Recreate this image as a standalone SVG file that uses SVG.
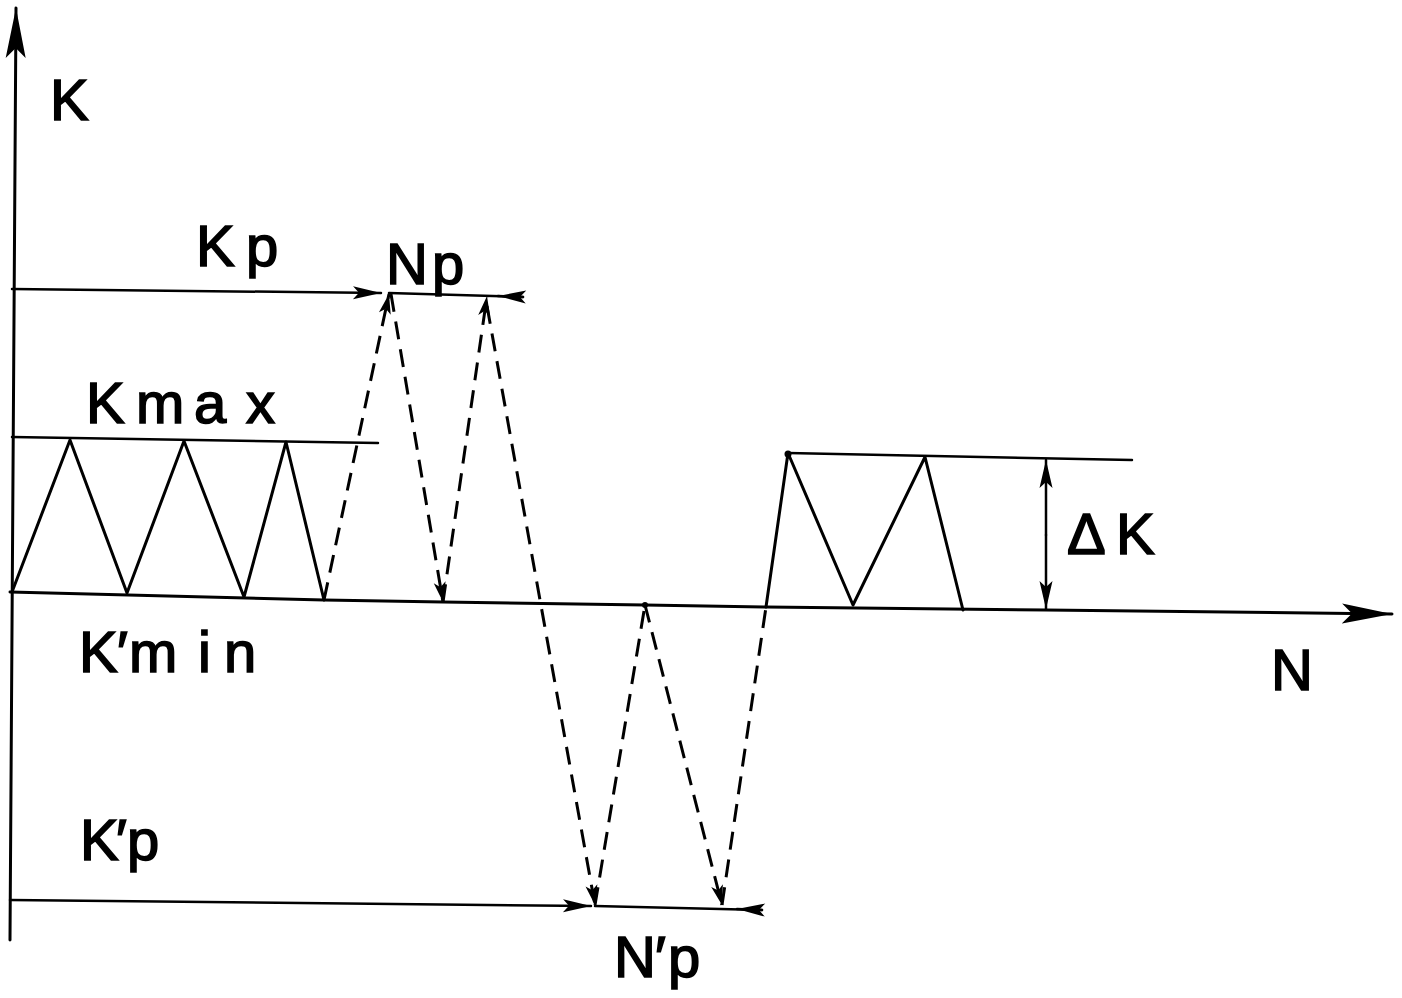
<svg xmlns="http://www.w3.org/2000/svg" width="1402" height="998" viewBox="0 0 1402 998">
<style>
.ln{stroke:#000;stroke-width:3;fill:none;stroke-linecap:round;stroke-linejoin:round}
.thin{stroke:#000;stroke-width:2.5;fill:none;stroke-linecap:round}
.dash{stroke:#000;stroke-width:3;fill:none;stroke-dasharray:18 10}
.lbl{font-family:"Liberation Sans","DejaVu Sans",Arial,sans-serif;font-size:58px;fill:#000;stroke:#000;stroke-width:1.6}
</style>
<defs>
<marker id="big" viewBox="-50 -11 52 22" refX="0" refY="0" markerUnits="userSpaceOnUse" markerWidth="52" markerHeight="22" orient="auto">
<path d="M0,0 L-50,-10 L-40,0 L-50,10 Z" fill="#000"/>
</marker>
<marker id="dim" viewBox="-30 -7 32 14" refX="0" refY="0" markerUnits="userSpaceOnUse" markerWidth="32" markerHeight="14" orient="auto">
<path d="M0,0 L-28,-6.5 L-22,0 L-28,6.5 Z" fill="#000"/>
</marker>
<marker id="tip" viewBox="-22 -7 24 14" refX="0" refY="0" markerUnits="userSpaceOnUse" markerWidth="24" markerHeight="14" orient="auto">
<path d="M0,0 L-20,-6 L-15,0 L-20,6 Z" fill="#000"/>
</marker>
</defs>

<g id="axes">
<line class="ln" x1="10" y1="940" x2="16" y2="8" marker-end="url(#big)"/>
<polyline class="ln" points="10,592 324,600 443,602 645,605 766,607 1046,610 1392,614" marker-end="url(#big)"/>
</g>

<g id="levels">
<polyline class="thin" points="12,437 378,443"/>
<polyline class="thin" points="788,453 1132,460"/>
</g>

<g id="connectors">
<polyline class="ln" points="12,592 70,440 127,593 184,441 244,597 286,442 324,600"/>
<polyline class="ln" points="766,607 788,453 853,605 925,457 963,610"/>
<line class="dash" x1="324" y1="600" x2="389" y2="294" marker-end="url(#tip)"/>
<line class="dash" x1="391" y1="294" x2="443" y2="602" marker-end="url(#tip)"/>
<line class="dash" x1="443" y1="602" x2="487" y2="296" marker-end="url(#tip)"/>
<line class="dash" x1="487" y1="306" x2="595" y2="905" marker-end="url(#tip)"/>
<line class="dash" x1="595" y1="905" x2="645" y2="605"/>
<line class="dash" x1="645" y1="605" x2="722" y2="905" marker-end="url(#tip)"/>
<line class="dash" x1="722" y1="905" x2="766" y2="607"/>
<circle cx="645" cy="605" r="3" fill="#000"/>
<circle cx="788" cy="454" r="3.5" fill="#000"/>
</g>

<g id="kp-dim">
<line class="thin" x1="12" y1="289" x2="381" y2="293" marker-end="url(#dim)"/>
<line class="thin" x1="389" y1="293" x2="523" y2="297"/>
<line class="thin" x1="523" y1="297" x2="498" y2="296" marker-end="url(#dim)"/>
</g>

<g id="kp2-dim">
<line class="thin" x1="10" y1="900" x2="591" y2="906" marker-end="url(#dim)"/>
<line class="thin" x1="595" y1="906" x2="762" y2="910"/>
<line class="thin" x1="762" y1="910" x2="737" y2="909" marker-end="url(#dim)"/>
</g>

<g id="dk-dim">
<line class="thin" x1="1046" y1="535" x2="1046" y2="460" marker-end="url(#dim)"/>
<line class="thin" x1="1046" y1="535" x2="1046" y2="609" marker-end="url(#dim)"/>
</g>

<g id="labels">
<text class="lbl" x="50" y="120">K</text>
<text class="lbl" x="196 246" y="266">Kp</text>
<text class="lbl" x="386 432" y="284">Np</text>
<text class="lbl" x="86 136 194 246" y="423">Kmax</text>
<text class="lbl" x="79 117 129 198 224" y="672">K′min</text>
<text class="lbl" x="1271" y="690">N</text>
<text class="lbl" x="1067 1116" y="554">ΔK</text>
<text class="lbl" x="80 116 127" y="860">K′p</text>
<text class="lbl" x="614 655 668" y="977">N′p</text>
</g>
</svg>
